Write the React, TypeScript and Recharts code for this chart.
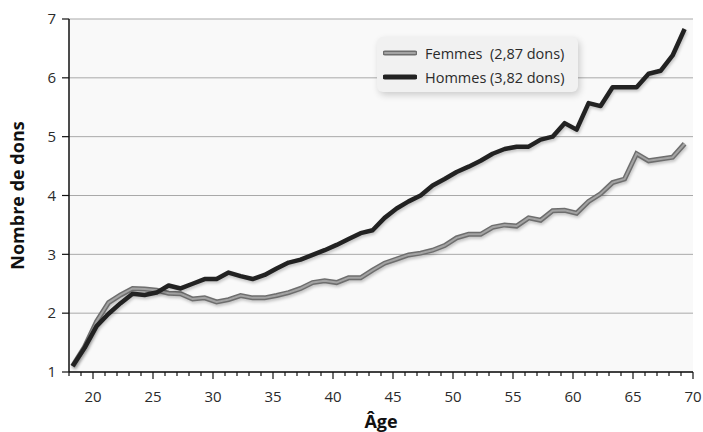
import React from "react"
import { LineChart, Line, XAxis, YAxis, CartesianGrid, Legend } from "recharts"

const AGES = [
  18.3, 19.3, 20.3, 21.3, 22.3, 23.3, 24.3, 25.3, 26.3, 27.3,
  28.3, 29.3, 30.3, 31.3, 32.3, 33.3, 34.3, 35.3, 36.3, 37.3,
  38.3, 39.3, 40.3, 41.3, 42.3, 43.3, 44.3, 45.3, 46.3, 47.3,
  48.3, 49.3, 50.3, 51.3, 52.3, 53.3, 54.3, 55.3, 56.3, 57.3,
  58.3, 59.3, 60.3, 61.3, 62.3, 63.3, 64.3, 65.3, 66.3, 67.3,
  68.3, 69.3,
]

const FEMMES = [
  1.1, 1.43, 1.86, 2.18, 2.31, 2.42, 2.41, 2.39, 2.34, 2.33,
  2.24, 2.26, 2.19, 2.23, 2.3, 2.26, 2.26, 2.3, 2.35, 2.42,
  2.52, 2.55, 2.52, 2.6, 2.6, 2.73, 2.85, 2.92, 2.99, 3.02,
  3.07, 3.15, 3.28, 3.34, 3.34, 3.46, 3.5, 3.48, 3.62, 3.58,
  3.74, 3.75, 3.7, 3.9, 4.03, 4.22, 4.28, 4.71, 4.59, 4.62,
  4.65, 4.88,
]

const HOMMES = [
  1.1, 1.41, 1.78, 1.99, 2.17, 2.33, 2.31, 2.35, 2.47, 2.42,
  2.5, 2.58, 2.58, 2.69, 2.63, 2.58, 2.65, 2.76, 2.86, 2.91,
  2.99, 3.07, 3.16, 3.26, 3.36, 3.41, 3.62, 3.78, 3.9, 4.0,
  4.17, 4.28, 4.4, 4.49, 4.59, 4.71, 4.79, 4.83, 4.83, 4.95,
  5.0, 5.23, 5.12, 5.57, 5.52, 5.84, 5.84, 5.84, 6.07, 6.12,
  6.38, 6.83,
]

const Y_TICKS = [1, 2, 3, 4, 5, 6, 7]
const X_TICKS = [
  18, 19, 20, 21, 22, 23, 24, 25, 26, 27, 28, 29, 30, 31, 32, 33, 34, 35,
  36, 37, 38, 39, 40, 41, 42, 43, 44, 45, 46, 47, 48, 49, 50, 51, 52, 53,
  54, 55, 56, 57, 58, 59, 60, 61, 62, 63, 64, 65, 66, 67, 68, 69, 70,
]

const LEGEND_FEMMES = "Femmes  (2,87 dons)"
const LEGEND_HOMMES = "Hommes (3,82 dons)"

const FONT = "'Open Sans', 'Noto Sans', sans-serif"
const TEXT_COLOR = "#2b2b2b"

const data = AGES.map((age, i) => ({ age, femmes: FEMMES[i], hommes: HOMMES[i] }))

// ticks every year, labels every 5
function AgeTick({ x, y, payload }: any) {
  const major = payload.value % 5 === 0
  return (
    <g>
      <line x1={x} x2={x} y1={y} y2={y + (major ? 7 : 4)} stroke="#111" strokeWidth={1.2} />
      {major && (
        <text x={x} y={y + 30} textAnchor="middle" fill={TEXT_COLOR} fontSize={15} fontFamily={FONT}>
          {payload.value}
        </text>
      )}
    </g>
  )
}

function LegendBox() {
  const row = { display: "flex", alignItems: "center", height: 24 }
  return (
    <div
      style={{
        width: 201,
        height: 55,
        boxSizing: "border-box",
        padding: "4px 0 0 6px",
        background: "#f1f1f1",
        borderRadius: 6,
        boxShadow: "2px 3px 7px rgba(0,0,0,0.18)",
        fontFamily: FONT,
        fontSize: 14.5,
        color: TEXT_COLOR,
        whiteSpace: "pre",
      }}
    >
      <div style={row}>
        <svg width={34} height={10} style={{ marginRight: 8 }}>
          <line x1={2} x2={32} y1={5} y2={5} stroke="#6e6e6e" strokeWidth={5} strokeLinecap="round" />
          <line x1={2} x2={32} y1={5} y2={5} stroke="#a3a3a3" strokeWidth={2} strokeLinecap="round" />
        </svg>
        <span>{LEGEND_FEMMES}</span>
      </div>
      <div style={row}>
        <svg width={34} height={10} style={{ marginRight: 8 }}>
          <line x1={2} x2={32} y1={5} y2={5} stroke="#222" strokeWidth={5} strokeLinecap="round" />
        </svg>
        <span>{LEGEND_HOMMES}</span>
      </div>
    </div>
  )
}

const shadow = { filter: "drop-shadow(1px 2px 1.5px rgba(0,0,0,0.22))" }

export default function App() {
  return (
    <div style={{ position: "absolute", left: 0, top: 0, width: 703, height: 432, background: "#fff" }}>
      <LineChart width={703} height={432} data={data} margin={{ top: 19, right: 10, left: 0, bottom: 0 }}>
        <CartesianGrid vertical={false} stroke="#a9a9a9" fill="#f9f9f9" />
        <XAxis
          dataKey="age"
          type="number"
          domain={[18, 70]}
          ticks={X_TICKS}
          interval={0}
          tick={<AgeTick />}
          tickLine={false}
          tickSize={0}
          tickMargin={0}
          height={60}
          axisLine={{ stroke: "#111", strokeWidth: 1.5 }}
          label={{
            content: ({ viewBox }: any) => (
              <text
                x={viewBox.x + viewBox.width / 2}
                y={viewBox.y + 56}
                textAnchor="middle"
                fill="#111"
                fontSize={18}
                fontWeight="bold"
                fontFamily={FONT}
              >
                Âge
              </text>
            ),
          }}
        />
        <YAxis
          domain={[1, 7]}
          ticks={Y_TICKS}
          width={69}
          tickSize={7}
          tickMargin={6}
          tick={{ fill: TEXT_COLOR, fontSize: 15, fontFamily: FONT }}
          tickLine={{ stroke: "#111", strokeWidth: 1.2 }}
          axisLine={{ stroke: "#111", strokeWidth: 1.5 }}
          label={{
            content: ({ viewBox }: any) => {
              const cx = viewBox.x + 24
              const cy = viewBox.y + viewBox.height / 2
              return (
                <text
                  x={cx}
                  y={cy}
                  transform={`rotate(-90, ${cx}, ${cy})`}
                  textAnchor="middle"
                  fill="#111"
                  fontSize={18}
                  fontWeight="bold"
                  fontFamily={FONT}
                >
                  Nombre de dons
                </text>
              )
            },
          }}
        />
        <Legend
          layout="horizontal"
          verticalAlign="middle"
          align="center"
          content={<LegendBox />}
          wrapperStyle={{ position: "absolute", top: 37, left: 377, width: 201, bottom: "auto" }}
        />
        {/* women: dark outline + light core */}
        <Line
          dataKey="femmes"
          type="linear"
          stroke="#6e6e6e"
          strokeWidth={5}
          dot={false}
          activeDot={false}
          legendType="none"
          style={shadow}
          isAnimationActive={false}
        />
        <Line
          dataKey="femmes"
          type="linear"
          stroke="#a3a3a3"
          strokeWidth={2}
          dot={false}
          activeDot={false}
          legendType="none"
          isAnimationActive={false}
        />
        <Line
          dataKey="hommes"
          type="linear"
          stroke="#222"
          strokeWidth={4.5}
          strokeLinejoin="round"
          dot={false}
          activeDot={false}
          style={shadow}
          isAnimationActive={false}
        />
      </LineChart>
    </div>
  )
}
